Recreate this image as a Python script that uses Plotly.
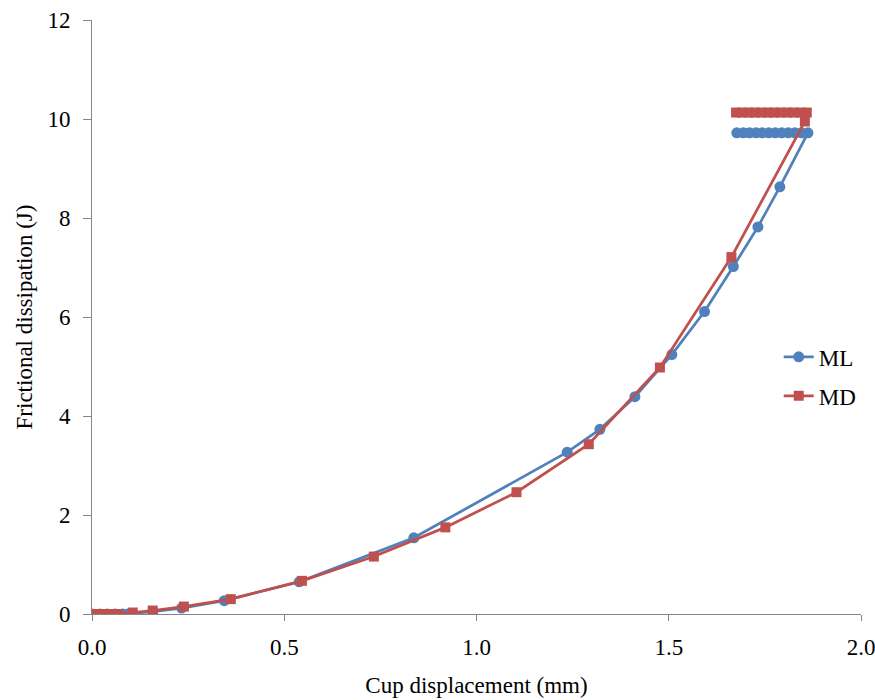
import plotly.graph_objects as go

# ML series: cup displacement (mm) vs frictional dissipation (J)
ml_x = [0.0, 0.02, 0.04, 0.06, 0.08, 0.094, 0.158, 0.233, 0.344, 0.539, 0.837,
        1.236, 1.321, 1.412, 1.508, 1.593, 1.668, 1.732, 1.789, 1.862,
        1.845, 1.828, 1.811, 1.794, 1.777, 1.760, 1.743, 1.727, 1.710, 1.694, 1.677]
ml_y = [0.0, 0.0, 0.0, 0.0, 0.0, 0.0, 0.05, 0.12, 0.27, 0.65, 1.54,
        3.27, 3.73, 4.39, 5.24, 6.11, 7.02, 7.82, 8.63, 9.72,
        9.72, 9.72, 9.72, 9.72, 9.72, 9.72, 9.72, 9.72, 9.72, 9.72, 9.72]

# MD series
md_x = [0.0, 0.013, 0.026, 0.039, 0.052, 0.068, 0.106, 0.158, 0.239, 0.361, 0.546,
        0.733, 0.919, 1.104, 1.292, 1.477, 1.663, 1.854,
        1.859, 1.842, 1.825, 1.808, 1.791, 1.774, 1.758, 1.741, 1.724, 1.708, 1.691, 1.675]
md_y = [0.0, 0.0, 0.0, 0.0, 0.0, 0.0, 0.03, 0.07, 0.15, 0.30, 0.67,
        1.16, 1.75, 2.46, 3.43, 4.98, 7.21, 9.95,
        10.13, 10.13, 10.13, 10.13, 10.13, 10.13, 10.13, 10.13, 10.13, 10.13, 10.13, 10.13]

x_ticks = [0.0, 0.5, 1.0, 1.5, 2.0]
y_ticks = [0, 2, 4, 6, 8, 10, 12]

BLUE = "#4F81BD"
RED = "#C0504D"
FONT = "Liberation Serif"

fig = go.Figure()
fig.add_trace(go.Scatter(
    x=ml_x, y=ml_y, name="ML", mode="lines+markers", legendgroup="ml",
    line=dict(color=BLUE, width=2.75),
    marker=dict(symbol="circle", size=11, color=BLUE),
))
fig.add_trace(go.Scatter(
    x=md_x, y=md_y, name="MD", mode="lines+markers", legendgroup="md",
    line=dict(color=RED, width=2.75),
    marker=dict(symbol="square", size=10, color=RED),
))

axis_common = dict(
    showgrid=False, zeroline=False, showline=True, linecolor="#868686", linewidth=1,
    ticks="outside", tickcolor="#868686", tickwidth=1, automargin=False,
    ticklabeloverflow="allow",
    tickfont=dict(family=FONT, size=23, color="black"),
)

fig.update_layout(
    width=875, height=700,
    margin=dict(l=92, r=14, t=20, b=86),
    paper_bgcolor="white", plot_bgcolor="white",
    font=dict(family=FONT, size=23, color="black"),
    xaxis=dict(
        range=[0, 2], tickvals=x_ticks, ticktext=[f"{v:.1f}" for v in x_ticks],
        ticklen=6, ticklabelstandoff=6,
        title=dict(text="Cup displacement (mm)", font=dict(family=FONT, size=23), standoff=18),
        **axis_common,
    ),
    yaxis=dict(
        range=[0, 12], tickvals=y_ticks, ticklen=8, ticklabelstandoff=8,
        title=dict(text="Frictional dissipation (J)", font=dict(family=FONT, size=23), standoff=8),
        **axis_common,
    ),
    legend=dict(
        x=0.893, y=0.40, xanchor="left", yanchor="middle",
        bgcolor="rgba(0,0,0,0)", itemwidth=30, tracegroupgap=6,
        font=dict(family=FONT, size=23),
    ),
)

fig.write_html("out.html")
